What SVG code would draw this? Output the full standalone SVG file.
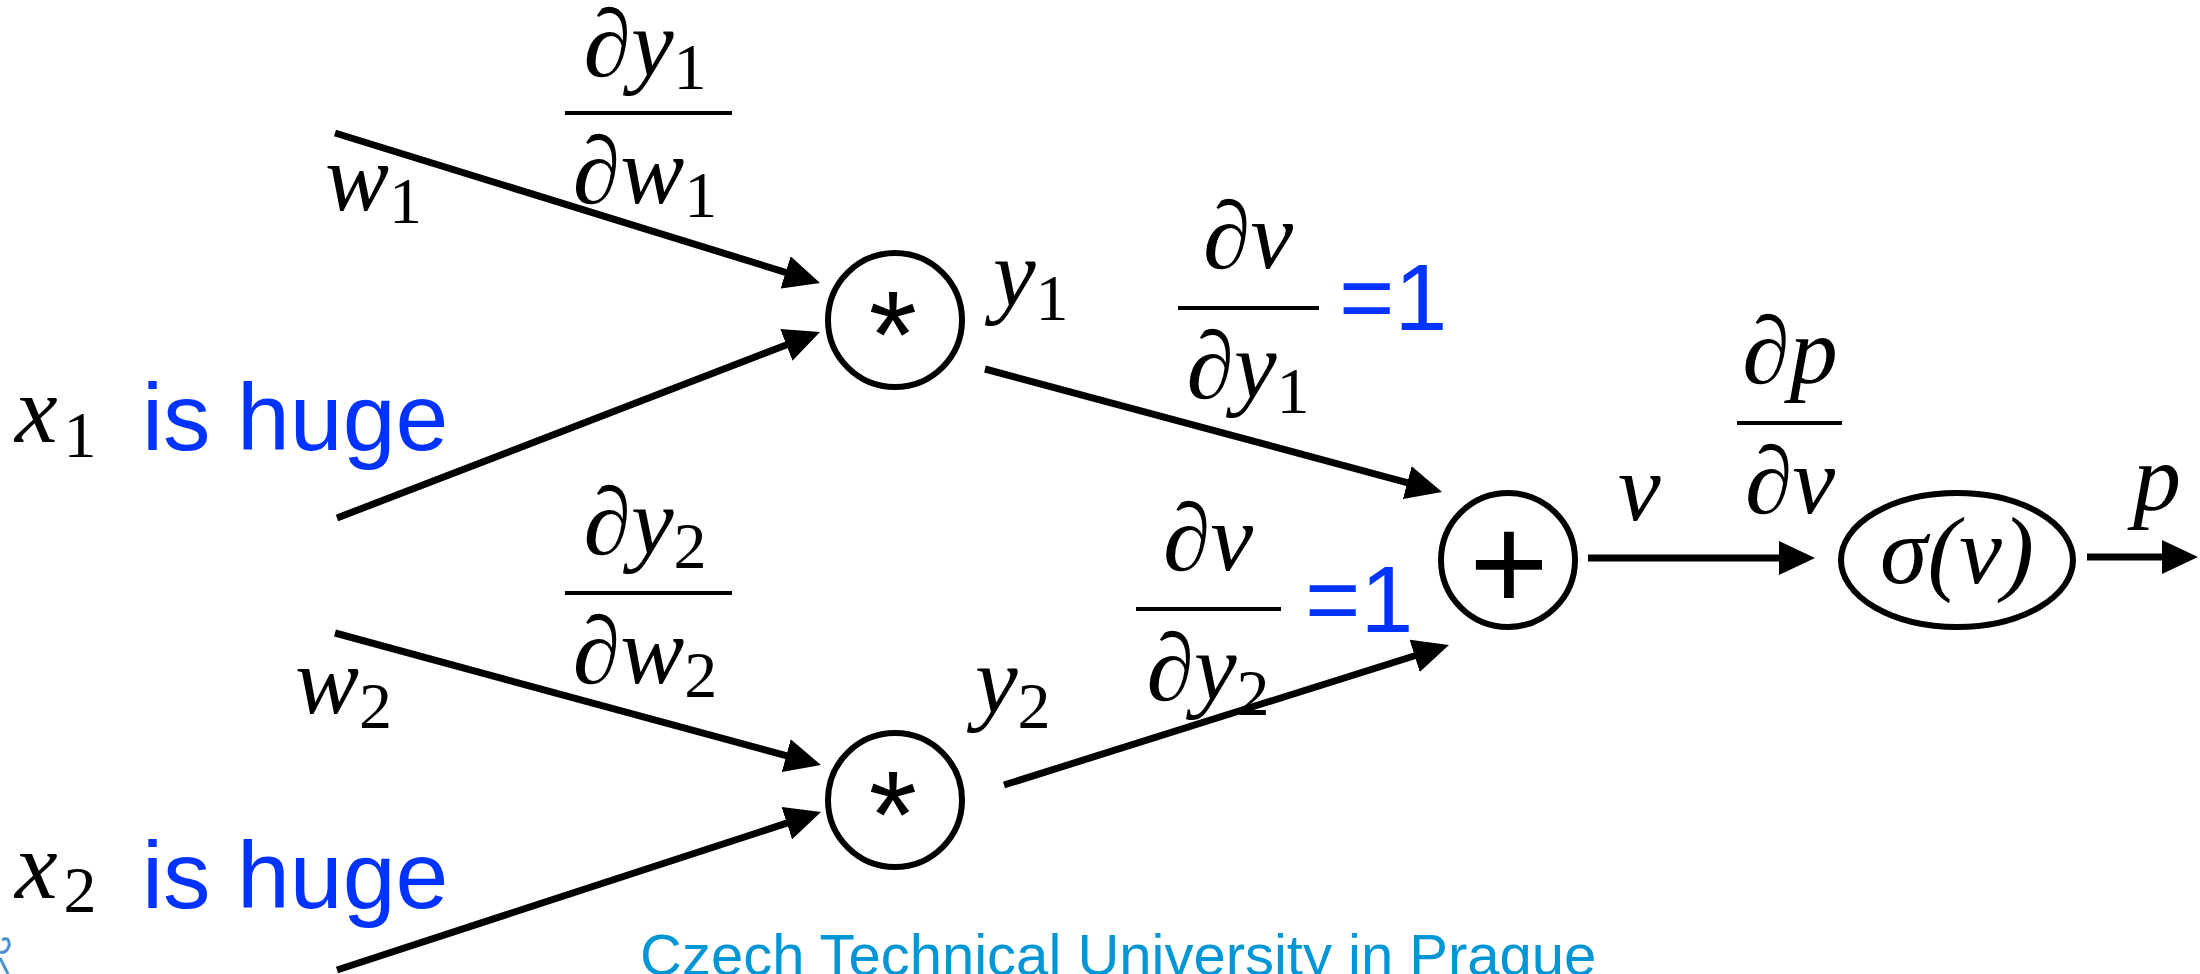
<svg xmlns="http://www.w3.org/2000/svg" width="2200" height="974" viewBox="0 0 2200 974">
<style>
.m{font-family:"Liberation Serif","DejaVu Serif",serif;font-style:italic;font-size:96px;fill:#000}
.s{font-family:"Liberation Serif","DejaVu Serif",serif;font-style:normal;font-size:66px}
.b{font-family:"Liberation Sans",Arial,sans-serif;font-size:95px;fill:#0033ff}
.op{font-family:"Liberation Sans",Arial,sans-serif;fill:#000}
.node{fill:none;stroke:#000;stroke-width:6}
.edge{stroke:#000;stroke-width:7;fill:none}
.bar{stroke:#000;stroke-width:4}
.ctu{font-family:"Liberation Sans",Arial,sans-serif;font-size:58px;fill:#0096d6}
</style>
<defs>
<marker id="ah" markerUnits="userSpaceOnUse" markerWidth="36" markerHeight="34" refX="16" refY="17" orient="auto">
<path d="M0,0 L36,17 L0,34 Z" fill="#000"/>
</marker>
</defs>
<rect width="2200" height="974" fill="#fff"/>

<g id="connectors">
<line class="edge" x1="335" y1="133" x2="800.9" y2="277.1" marker-end="url(#ah)"/>
<line class="edge" x1="337" y1="518" x2="801.3" y2="339.2" marker-end="url(#ah)"/>
<line class="edge" x1="335" y1="633" x2="801.7" y2="759.8" marker-end="url(#ah)"/>
<line class="edge" x1="337" y1="970" x2="802" y2="818.2" marker-end="url(#ah)"/>
<line class="edge" x1="985" y1="369" x2="1422.7" y2="486.8" marker-end="url(#ah)"/>
<line class="edge" x1="1004" y1="785" x2="1429.9" y2="651" marker-end="url(#ah)"/>
<line class="edge" x1="1588" y1="558" x2="1795" y2="558" marker-end="url(#ah)"/>
<line class="edge" x1="2087" y1="557" x2="2178" y2="557" marker-end="url(#ah)"/>
</g>

<g id="mul1">
<circle class="node" cx="895" cy="320" r="67"/>
<text class="op" x="893" y="378" font-size="124" text-anchor="middle">*</text>
</g>
<g id="mul2">
<circle class="node" cx="895" cy="800" r="67"/>
<text class="op" x="893" y="858" font-size="124" text-anchor="middle">*</text>
</g>
<g id="add">
<circle class="node" cx="1508" cy="560" r="67"/>
<text class="op" x="1509" y="610" font-size="136" text-anchor="middle">+</text>
</g>
<g id="sigma">
<ellipse class="node" cx="1957" cy="560" rx="116" ry="67"/>
<text class="m" x="1957" y="583" text-anchor="middle">σ(v)</text>
</g>

<g id="labels">
<text class="m" x="325" y="210">w<tspan class="s" dy="13">1</tspan></text>
<text class="m" x="295" y="713">w<tspan class="s" dy="15">2</tspan></text>
<text class="m" x="15" y="442">x<tspan class="s" dx="6" dy="15">1</tspan></text>
<text class="b" x="142" y="450">is huge</text>
<text class="m" x="15" y="898">x<tspan class="s" dx="6" dy="14">2</tspan></text>
<text class="b" x="142" y="908">is huge</text>
<text class="m" x="993" y="306">y<tspan class="s" dy="14">1</tspan></text>
<text class="m" x="975" y="713">y<tspan class="s" dy="15">2</tspan></text>
<text class="m" x="1618" y="520">v</text>
<text class="m" x="2133" y="510">p</text>
</g>

<g id="frac-dy1dw1">
<text class="m" x="645" y="76" text-anchor="middle">∂y<tspan class="s" dy="13">1</tspan></text>
<line class="bar" x1="565" y1="113" x2="732" y2="113"/>
<text class="m" x="645" y="203" text-anchor="middle">∂w<tspan class="s" dy="14">1</tspan></text>
</g>
<g id="frac-dy2dw2">
<text class="m" x="645" y="554" text-anchor="middle">∂y<tspan class="s" dy="14">2</tspan></text>
<line class="bar" x1="565" y1="593" x2="732" y2="593"/>
<text class="m" x="645" y="683" text-anchor="middle">∂w<tspan class="s" dy="14">2</tspan></text>
</g>
<g id="frac-dvdy1">
<text class="m" x="1248" y="268" text-anchor="middle">∂v</text>
<line class="bar" x1="1178" y1="308" x2="1319" y2="308"/>
<text class="m" x="1248" y="398" text-anchor="middle">∂y<tspan class="s" dy="15">1</tspan></text>
<text class="b" x="1339" y="330" font-size="94">=1</text>
</g>
<g id="frac-dvdy2">
<text class="m" x="1208" y="570" text-anchor="middle">∂v</text>
<line class="bar" x1="1136" y1="609" x2="1281" y2="609"/>
<text class="m" x="1208" y="700" text-anchor="middle">∂y<tspan class="s" dy="15">2</tspan></text>
<text class="b" x="1305" y="632" font-size="94">=1</text>
</g>
<g id="frac-dpdv">
<text class="m" x="1790" y="383" text-anchor="middle">∂p</text>
<line class="bar" x1="1737" y1="423" x2="1842" y2="423"/>
<text class="m" x="1790" y="513" text-anchor="middle">∂v</text>
</g>

<g id="footer">
<text class="ctu" x="640" y="975">Czech Technical University in Prague</text>
<path d="M2,940 Q10,936 9,946 Q6,954 0,952 M0,958 L8,974" stroke="#4a8fd4" stroke-width="3" fill="none"/>
</g>
</svg>
